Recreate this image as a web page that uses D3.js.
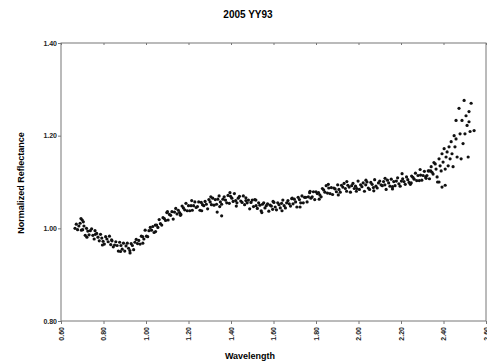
<!doctype html>
<html>
<head>
    <meta http-equiv="Content-type" content="text/html; charset=utf-8"/>
    <script src="https://d3js.org/d3.v7.min.js"></script>
    <style>
        body { margin: 0; background: #fff; }
        svg text { font-family: "Liberation Sans", Arial, sans-serif; }
        .title { font-size: 10px; font-weight: bold; }
        .axis-label { font-size: 9px; font-weight: bold; }
        .tick text { font-size: 7px; font-weight: bold; }
    </style>
</head>
<body>
<svg width="487" height="362"></svg>
<script>
    // x values of the spectrum (microns)
    var wavelength = [
        0.672,0.678,0.684,0.690,0.696,0.702,0.708,0.714,0.720,0.726,
        0.732,0.738,0.744,0.750,0.756,0.762,0.768,0.774,0.780,0.786,
        0.792,0.798,0.804,0.810,0.816,0.822,0.828,0.834,0.840,0.846,
        0.852,0.858,0.864,0.870,0.876,0.882,0.888,0.894,0.900,0.906,
        0.912,0.918,0.924,0.930,0.936,0.942,0.948,0.954,0.960,0.966,
        0.972,0.978,0.984,0.990,0.996,1.002,1.008,1.014,1.020,1.026,
        1.032,1.038,1.044,1.050,1.056,1.062,1.068,1.074,1.080,1.086,
        1.092,1.098,1.104,1.110,1.116,1.122,1.128,1.134,1.140,1.146,
        1.152,1.158,1.164,1.170,1.176,1.182,1.188,1.194,1.200,1.206,
        1.212,1.218,1.224,1.230,1.236,1.242,1.248,1.254,1.260,1.266,
        1.272,1.278,1.284,1.290,1.296,1.302,1.308,1.314,1.320,1.326,
        1.332,1.338,1.344,1.350,1.356,1.362,1.368,1.374,1.380,1.386,
        1.392,1.398,1.404,1.410,1.416,1.422,1.428,1.434,1.440,1.446,
        1.452,1.458,1.464,1.470,1.476,1.482,1.488,1.494,1.500,1.506,
        1.512,1.518,1.524,1.530,1.536,1.542,1.548,1.554,1.560,1.566,
        1.572,1.578,1.584,1.590,1.596,1.602,1.608,1.614,1.620,1.626,
        1.632,1.638,1.644,1.650,1.656,1.662,1.668,1.674,1.680,1.686,
        1.692,1.698,1.704,1.710,1.716,1.722,1.728,1.734,1.740,1.746,
        1.752,1.758,1.764,1.770,1.776,1.782,1.788,1.794,1.800,1.806,
        1.812,1.818,1.824,1.830,1.836,1.842,1.848,1.854,1.860,1.866,
        1.872,1.878,1.884,1.890,1.896,1.902,1.908,1.914,1.920,1.926,
        1.932,1.938,1.944,1.950,1.956,1.962,1.968,1.974,1.980,1.986,
        1.992,1.998,2.004,2.010,2.016,2.022,2.028,2.034,2.040,2.046,
        2.052,2.058,2.064,2.070,2.076,2.082,2.088,2.094,2.100,2.106,
        2.112,2.118,2.124,2.130,2.136,2.142,2.148,2.154,2.160,2.166,
        2.172,2.178,2.184,2.190,2.196,2.202,2.208,2.214,2.220,2.226,
        2.232,2.238,2.244,2.250,2.256,2.262,2.268,2.274,2.280,2.286,
        2.292,2.298,2.304,2.310,2.316,2.322,2.328,2.334,2.340,2.346,
        2.332,2.342,2.351,2.361,2.365,2.370,2.379,2.384,2.389,2.393,
        2.398,2.403,2.408,2.412,2.417,2.422,2.426,2.431,2.436,2.440,
        2.445,2.450,2.454,2.459,2.459,2.464,2.473,2.478,2.483,2.487,
        2.492,2.497,2.501,2.506,2.511,2.516,2.520,2.520,2.525,2.530,
        2.544,2.393,2.408,2.379,0.666,0.694,0.700,1.356,1.335,
        0.705,0.722,0.760,0.795,0.838,0.880,0.925,0.985,1.045,1.101,
        1.162,1.215,1.262,1.305,1.347,1.395,1.425,1.470,1.517,1.545,
        1.598,1.640,1.688,1.725,1.772,1.815,1.858,1.905,1.945,1.990,
        2.035,2.072,2.125,2.160,2.205,2.248,2.290,2.318,2.355,2.372
    ];

    // normalized reflectance for each wavelength
    var reflectance = [
        1.009,0.997,1.005,1.011,0.996,0.997,1.005,0.985,1.000,0.994,
        0.986,0.995,0.999,0.985,0.977,0.987,0.989,0.981,0.973,0.987,
        0.979,0.972,0.966,0.982,0.977,0.971,0.983,0.965,0.973,0.960,
        0.964,0.971,0.963,0.951,0.970,0.963,0.955,0.968,0.951,0.962,
        0.968,0.957,0.952,0.967,0.963,0.954,0.970,0.976,0.967,0.974,
        0.966,0.983,0.982,0.977,0.996,0.983,0.982,0.995,1.002,0.996,
        1.004,0.991,1.007,1.007,1.002,1.019,1.010,1.007,1.023,1.021,
        1.017,1.034,1.018,1.030,1.028,1.036,1.020,1.035,1.043,1.031,
        1.039,1.034,1.030,1.048,1.044,1.040,1.054,1.038,1.049,1.038,
        1.049,1.039,1.049,1.057,1.045,1.047,1.057,1.039,1.056,1.051,
        1.049,1.058,1.052,1.042,1.062,1.057,1.051,1.065,1.050,1.062,
        1.052,1.063,1.070,1.057,1.052,1.063,1.068,1.061,1.055,1.071,
        1.054,1.069,1.065,1.058,1.075,1.060,1.055,1.065,1.069,1.059,
        1.056,1.070,1.051,1.060,1.055,1.061,1.042,1.056,1.061,1.047,
        1.062,1.049,1.043,1.055,1.050,1.038,1.052,1.055,1.044,1.049,
        1.053,1.037,1.050,1.048,1.041,1.056,1.046,1.040,1.055,1.051,
        1.044,1.054,1.061,1.049,1.044,1.055,1.060,1.053,1.048,1.064,
        1.053,1.063,1.057,1.046,1.067,1.062,1.055,1.070,1.055,1.067,
        1.067,1.057,1.068,1.077,1.065,1.068,1.079,1.062,1.079,1.075,
        1.077,1.072,1.068,1.086,1.083,1.078,1.092,1.076,1.087,1.075,
        1.088,1.073,1.087,1.085,1.079,1.094,1.084,1.078,1.093,1.089,
        1.097,1.086,1.080,1.093,1.089,1.078,1.092,1.097,1.086,1.091,
        1.086,1.102,1.084,1.094,1.090,1.098,1.080,1.094,1.100,1.087,
        1.084,1.099,1.095,1.088,1.105,1.091,1.087,1.098,1.102,1.094,
        1.092,1.101,1.094,1.084,1.104,1.098,1.091,1.106,1.090,1.101,
        1.092,1.102,1.109,1.096,1.091,1.102,1.107,1.101,1.095,1.111,
        1.105,1.099,1.095,1.113,1.110,1.106,1.119,1.103,1.114,1.103,
        1.115,1.104,1.114,1.123,1.111,1.114,1.124,1.107,1.124,1.121,
        1.124,1.133,1.117,1.139,1.128,1.111,1.150,1.135,1.124,1.161,
        1.143,1.172,1.128,1.154,1.165,1.135,1.176,1.150,1.187,1.161,
        1.133,1.200,1.176,1.233,1.193,1.154,1.259,1.204,1.150,1.233,
        1.183,1.276,1.204,1.243,1.222,1.154,1.252,1.230,1.209,1.270,
        1.211,1.089,1.093,1.100,1.000,1.021,1.018,1.027,1.035,
        1.014,0.981,0.995,0.964,0.975,0.950,0.947,0.968,0.993,1.036,
        1.028,1.060,1.038,1.068,1.047,1.077,1.048,1.066,1.061,1.034,
        1.058,1.038,1.065,1.046,1.080,1.063,1.095,1.072,1.101,1.080,
        1.104,1.081,1.108,1.085,1.118,1.098,1.127,1.108,1.142,1.100
    ];

    var xTicks = [0.60, 0.80, 1.00, 1.20, 1.40, 1.60, 1.80, 2.00, 2.20, 2.40, 2.60];
    var yTicks = [0.80, 1.00, 1.20, 1.40];

    var points = wavelength.map(function(d, i) { return [d, reflectance[i]]; });

    var svg = d3.select("svg");
    var plotLeft = 61, plotRight = 486, plotTop = 43, plotBottom = 321;

    var x = d3.scaleLinear().domain([0.6, 2.6]).range([plotLeft, plotRight]);
    var y = d3.scaleLinear().domain([0.8, 1.4]).range([plotBottom, plotTop]);

    // frame
    svg.append("rect")
        .attr("x", plotLeft).attr("y", plotTop)
        .attr("width", plotRight - plotLeft).attr("height", plotBottom - plotTop)
        .attr("fill", "none").attr("stroke", "#777").attr("stroke-width", 1);

    // x axis, labels turned on their side
    var xAxis = svg.append("g")
        .attr("transform", "translate(0," + plotBottom + ")")
        .call(d3.axisBottom(x).tickValues(xTicks).tickFormat(d3.format(".2f")).tickSize(3));
    xAxis.select(".domain").remove();
    xAxis.selectAll("line").attr("stroke", "#777");
    xAxis.selectAll("text")
        .attr("fill", "#222")
        .attr("transform", "rotate(-90)")
        .attr("text-anchor", "end")
        .attr("x", -6).attr("y", 0).attr("dy", "0.35em");

    var xTop = svg.append("g")
        .attr("transform", "translate(0," + plotTop + ")")
        .call(d3.axisBottom(x).tickValues(xTicks).tickFormat("").tickSize(2));
    xTop.select(".domain").remove();
    xTop.selectAll("line").attr("stroke", "#777");

    // y axis
    var yAxis = svg.append("g")
        .attr("transform", "translate(" + plotLeft + ",0)")
        .call(d3.axisLeft(y).tickValues(yTicks).tickFormat(d3.format(".2f")).tickSize(3));
    yAxis.select(".domain").remove();
    yAxis.selectAll("line").attr("stroke", "#777");
    yAxis.selectAll("text").attr("fill", "#222").attr("x", -4);

    // spectrum points
    svg.append("g").selectAll("circle")
        .data(points)
        .enter()
        .append("circle")
        .attr("cx", function(d) { return x(d[0]); })
        .attr("cy", function(d) { return y(d[1]); })
        .attr("r", 1.6)
        .attr("fill", "#111");

    svg.append("text").attr("class", "title")
        .attr("x", 248).attr("y", 18).attr("text-anchor", "middle")
        .text("2005 YY93");

    svg.append("text").attr("class", "axis-label")
        .attr("x", 250).attr("y", 359).attr("text-anchor", "middle")
        .text("Wavelength");

    svg.append("text").attr("class", "axis-label")
        .attr("transform", "translate(24,183) rotate(-90)")
        .attr("text-anchor", "middle")
        .text("Normalized Reflectance");
</script>
</body>
</html>
